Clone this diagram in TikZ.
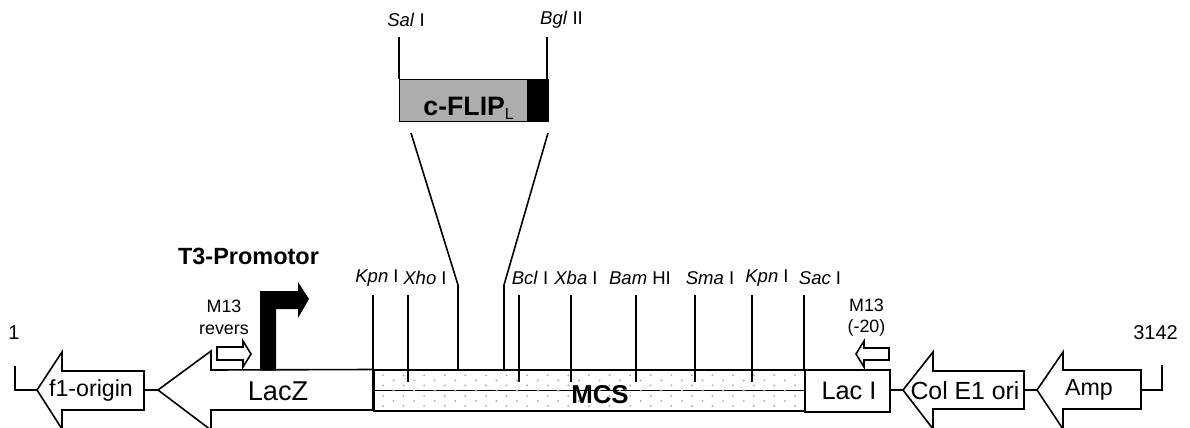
\documentclass[tikz,border=0pt]{standalone}
\usepackage{fontspec}
\setmainfont{Liberation Sans}
\newcommand{\enz}[2]{\textit{#1} #2}
\begin{document}
\begin{tikzpicture}[x=0.75pt,y=-0.75pt,
  line/.style={draw=black,line width=1.5pt*0.8,line join=miter},
  part/.style={line,fill=white},
  big/.style={inner sep=0pt,text=black,font=\fontsize{18.6pt}{20pt}\selectfont},
  mid/.style={inner sep=0pt,text=black,font=\fontsize{17.4pt}{20pt}\selectfont},
  small/.style={inner sep=0pt,text=black,align=center,font=\fontsize{13.4pt}{16pt}\selectfont},
  enzy/.style={inner sep=0pt,text=black,font=\fontsize{13.9pt}{15pt}\selectfont},
  num/.style={inner sep=0pt,text=black,font=\fontsize{15pt}{16pt}\selectfont},
  head/.style={inner sep=0pt,text=black,font=\bfseries\fontsize{17.6pt}{20pt}\selectfont}]
\useasboundingbox (0,0) rectangle (1190,428);
% anchors
\coordinate (startTop) at (15,366);
\coordinate (startBend) at (15,390);
\coordinate (f1Tip) at (37,390);
\coordinate (f1End) at (144,390);
\coordinate (lacZTip) at (158,390);
\coordinate (lacIEnd) at (889,390);
\coordinate (colTip) at (903,390);
\coordinate (colEnd) at (1024,390);
\coordinate (ampTip) at (1037,390);
\coordinate (ampEnd) at (1141,390);
\coordinate (endBend) at (1162,390);
\coordinate (endTop) at (1162,365);
% connectors of the backbone
\draw[line] (startTop) -- (startBend) -- (f1Tip);
\draw[line] (f1End) -- (lacZTip);
\draw[line] (lacIEnd) -- (colTip);
\draw[line] (colEnd) -- (ampTip);
\draw[line] (ampEnd) -- (endBend) -- (endTop);
% parts
\draw[part] (f1Tip) -- (62,352) -- (62,371) -- (144,371) -- (144,410) -- (62,410) -- (62,429) -- cycle;
\draw[part] (lacZTip) -- (211,351) -- (211,370) -- (373,369.5) -- (373,410) -- (211,410) -- (211,430) -- cycle;
\draw[part] (colTip) -- (933,352) -- (933,371) -- (1024,371) -- (1024,409) -- (933,409) -- (933,429) -- cycle;
\draw[part] (ampTip) -- (1063,352) -- (1063,370) -- (1141,370) -- (1141,409) -- (1063,409) -- (1063,429) -- cycle;
\node[part,minimum width=85pt*0.75,minimum height=42pt*0.75,inner sep=0pt,anchor=north west] (lacI) at (804,369) {};
% MCS
\node[part,minimum width=431pt*0.75,minimum height=41pt*0.75,inner sep=0pt,anchor=north west] (mcs) at (373,369) {};
\draw[line] (mcs.west) -- (mcs.east);
\foreach \yy in {375.3,385.4,396,406}{
  \foreach \i in {0,...,20}{
    \fill[black!30] ({382.9+20.6*\i},\yy) circle[radius=1.1];
  }
}
\foreach \yy in {380.4,390.6,401}{
  \foreach \i in {0,...,19}{
    \fill[black!30] ({393.5+20.6*\i},\yy) circle[radius=1.1];
  }
}
% promoter
\fill[black] (260,370.5) -- (260,291) -- (298,291) -- (298,282) -- (309,299) -- (298,318) -- (298,309) -- (276,309) -- (276,370.5) -- cycle;
% primers
\draw[part] (217,347) -- (243,347) -- (243,341) -- (251,354) -- (243,367) -- (243,360) -- (217,360) -- cycle;
\draw[part] (856,354) -- (864,341) -- (864,348) -- (889,348) -- (889,360) -- (864,360) -- (864,367) -- cycle;
% sites
\foreach \n/\xx/\bot in {a/373/369,b/408/382,e/519/382,f/571/382,g/636/382,h/695/382,i/752/382,j/804/369}{
  \coordinate (site\n top) at (\xx,295);
  \coordinate (site\n bot) at (\xx,\bot);
  \draw[line] (site\n top) -- (site\n bot);
}
% insert
\node[draw=black,fill=black!32,line width=1.1pt,minimum width=128pt*0.75,minimum height=42pt*0.75,inner sep=0pt,anchor=north west] (flip) at (399,79) {};
\node[draw=black,fill=black,line width=0.6pt,minimum width=21pt*0.75,minimum height=42pt*0.75,inner sep=0pt,anchor=north west] (tag) at (527,79) {};
\coordinate (salTop) at (399,37);
\coordinate (salBot) at (399,79);
\coordinate (bglTop) at (547,37);
\coordinate (bglBot) at (547,79);
\draw[line] (salTop) -- (salBot);
\draw[line] (bglTop) -- (bglBot);
\coordinate (insLa) at (411,133);
\coordinate (insLb) at (458,285);
\coordinate (insLc) at (458,369);
\coordinate (insRa) at (548,133);
\coordinate (insRb) at (504,285);
\coordinate (insRc) at (504,369);
\draw[line] (insLa) -- (insLb) -- (insLc);
\draw[line] (insRa) -- (insRb) -- (insRc);
% texts
\node[mid] (tF) at (91,391) {f1-origin};
\node[big,font=\fontsize{20.4pt}{22pt}\selectfont] (tZ) at (278,391) {LacZ};
\node[big,font=\fontsize{19pt}{22pt}\selectfont] (tI) at (849,391) {Lac I};
\node[big] (tC) at (965,391) {Col E1 ori};
\node[mid] (tA) at (1089,390) {Amp};
\node[head,font=\bfseries\fontsize{19.4pt}{20pt}\selectfont] (tM) at (600,395) {MCS};
\node[head] (tT) at (248.5,256) {T3-Promotor};
\node[small] (tR) at (224,317.5) {M13\\revers};
\node[small] (tP) at (866.5,317.5) {M13\\(-20)};
\node[num] (t1) at (14,333) {1};
\node[num] (t2) at (1155.5,333) {3142};
\node[enzy] at (377,278) (e1) {\enz{Kpn}{I}};
\node[enzy] at (425,278) (e2) {\enz{Xho}{I}};
\node[enzy] at (530,278) (e3) {\enz{Bcl}{I}};
\node[enzy] at (576,278) (e4) {\enz{Xba}{I}};
\node[enzy] at (640,278) (e5) {\enz{Bam}{HI}};
\node[enzy] at (710,278) (e6) {\enz{Sma}{I}};
\node[enzy] at (767,278) (e7) {\enz{Kpn}{I}};
\node[enzy] at (820,278) (e8) {\enz{Sac}{I}};
\node[enzy] at (406,20) (e9) {\enz{Sal}{I}};
\node[enzy] at (561.5,20) (e10) {\enz{Bgl}{II}};
\node[inner sep=0pt,text=black,font=\bfseries\fontsize{20pt}{22pt}\selectfont] (tFlip) at (469,108) {c-FLIP\textsubscript{\normalfont\fontsize{12pt}{12pt}\selectfont L}};
\end{tikzpicture}
\end{document}
